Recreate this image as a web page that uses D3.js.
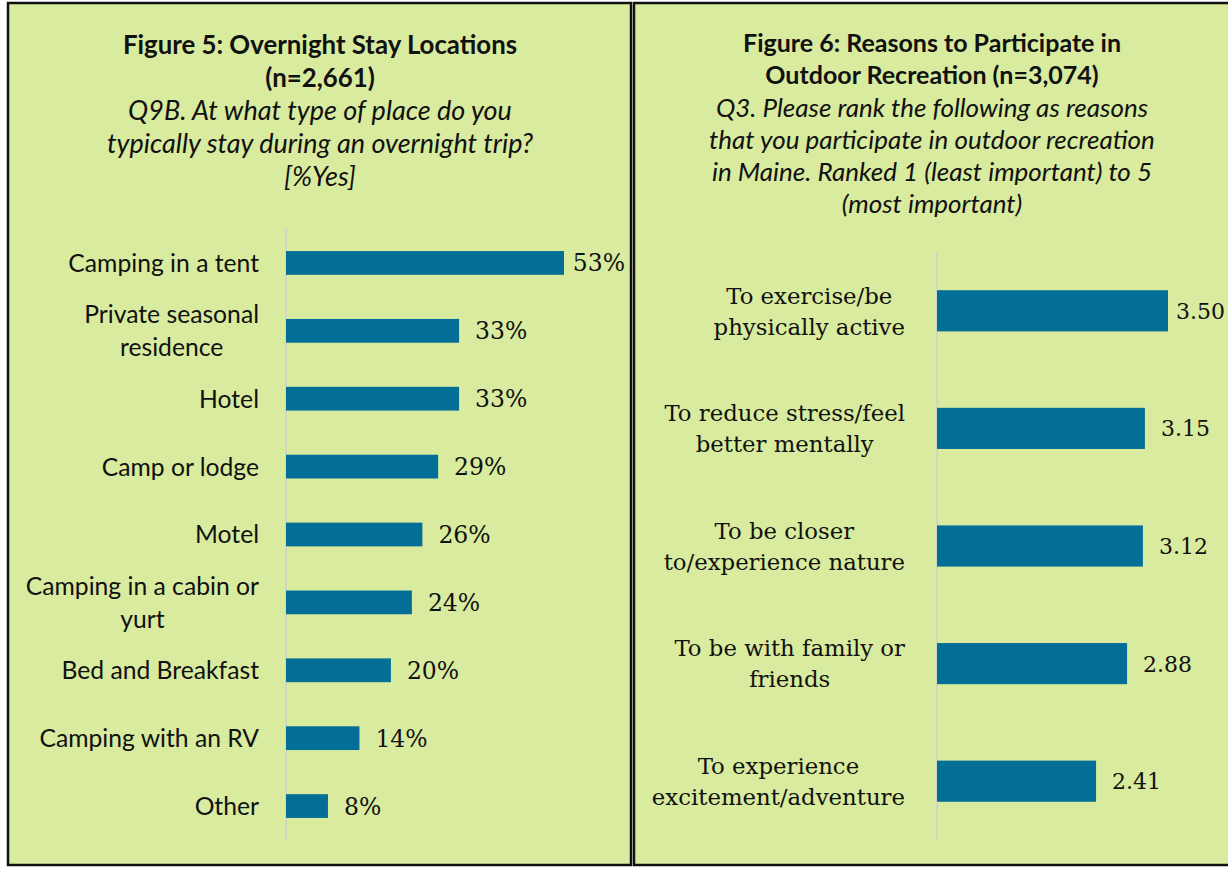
<!DOCTYPE html>
<html>
<head>
<meta charset="utf-8">
<script src="https://cdn.jsdelivr.net/npm/d3@7"></script>
<style>
  body { margin: 0; background: #fff; }
  svg { display: block; }
</style>
</head>
<body>
<svg id="chart"></svg>
<script>
// ── Data ──
const stayLabels = ['Camping in a tent', 'Private seasonal\nresidence', 'Hotel', 'Camp or lodge', 'Motel',
  'Camping in a cabin or\nyurt', 'Bed and Breakfast', 'Camping with an RV', 'Other'];
const stayValues = [53, 33, 33, 29, 26, 24, 20, 14, 8];

const reasonLabels = ['To exercise/be\nphysically active', 'To reduce stress/feel\nbetter mentally',
  'To be closer\nto/experience nature', 'To be with family or\nfriends', 'To experience\nexcitement/adventure'];
const reasonValues = [3.50, 3.15, 3.12, 2.88, 2.41];

const fig5Title = ['Figure 5: Overnight Stay Locations', '(n=2,661)'];
const fig5Question = ['Q9B. At what type of place do you', 'typically stay during an overnight trip?', '[%Yes]'];
const fig6Title = ['Figure 6: Reasons to Participate in', 'Outdoor Recreation (n=3,074)'];
const fig6Question = ['Q3. Please rank the following as reasons', 'that you participate in outdoor recreation',
  'in Maine. Ranked 1 (least important) to 5', '(most important)'];

const W = 1228, H = 869;
const BG = '#d8eb9e', BAR = '#046f96';
const SANS = 'Lato, "Open Sans", sans-serif';
const SERIF = '"DejaVu Serif", "Liberation Serif", serif';

const svg = d3.select('#chart').attr('width', W).attr('height', H);

// panels
svg.append('rect').attr('x', 8).attr('y', 3).attr('width', 623).attr('height', 862)
  .attr('fill', BG).attr('stroke', '#111').attr('stroke-width', 2.5);
svg.append('rect').attr('x', 634).attr('y', 3).attr('width', 610).attr('height', 862)
  .attr('fill', BG).attr('stroke', '#111').attr('stroke-width', 2.5);

function drawHeader(cx, titleLines, qLines, c0, lh, bSize, iSize) {
  titleLines.concat(qLines).forEach((t, i) => {
    const bold = i < titleLines.length;
    svg.append('text').attr('x', cx).attr('y', c0 + i * lh).attr('dy', '0.36em')
      .attr('text-anchor', 'middle')
      .style('font-family', SANS).style('font-size', bold ? bSize : iSize).style('fill', '#111')
      .style('font-weight', bold ? '700' : '400')
      .style('font-style', bold ? 'normal' : 'italic')
      .text(t);
  });
}

function drawBars(o) {
  const x = d3.scaleLinear().domain([0, o.max]).range([o.x0, o.x1]);
  const y = d3.scaleBand().domain(o.labels).range([o.y0, o.y1]).paddingInner(o.pad).paddingOuter(o.pad / 2);
  const g = svg.append('g');

  // axis line
  g.append('line').attr('x1', x(0)).attr('x2', x(0))
    .attr('y1', o.y0).attr('y2', o.y1).attr('stroke', '#d0d0d0').attr('stroke-width', 1.5);

  g.selectAll('rect.bar').data(o.values).enter().append('rect')
    .attr('class', 'bar')
    .attr('x', x(0)).attr('y', (d, i) => y(o.labels[i]))
    .attr('width', d => x(d) - x(0)).attr('height', y.bandwidth())
    .attr('fill', BAR);

  // value labels
  g.selectAll('text.val').data(o.values).enter().append('text')
    .attr('class', 'val')
    .attr('x', d => x(d) + 16)
    .attr('y', (d, i) => y(o.labels[i]) + y.bandwidth() / 2)
    .attr('dy', '0.36em')
    .style('font-family', SERIF).style('font-size', o.valSize).style('fill', '#111')
    .text(o.fmt)
    .each(function () {
      const w = this.getComputedTextLength();
      const xx = +this.getAttribute('x');
      if (xx + w > o.limit) this.setAttribute('x', o.limit - w);
    });

  // category labels, centred lines inside a right-aligned block
  o.labels.forEach((lab, i) => {
    const lines = lab.split('\n');
    const cy = y(lab) + y.bandwidth() / 2;
    const t = g.append('text')
      .style('font-family', o.labFont).style('font-size', o.labSize).style('fill', '#111');
    const spans = lines.map((l, k) => t.append('tspan')
      .attr('y', cy + (k - (lines.length - 1) / 2) * o.lh).attr('dy', '0.36em').text(l));
    const widths = spans.map(s => s.node().getComputedTextLength());
    const wmax = d3.max(widths);
    spans.forEach((s, k) => s.attr('x', o.labRight - wmax + (wmax - widths[k]) / 2));
  });
}

drawHeader(320, fig5Title, fig5Question, 45, 32.8, '25.8px', '27px');
drawHeader(932, fig6Title, fig6Question, 43, 32.2, '25px', '26px');

drawBars({
  labels: stayLabels, values: stayValues, max: 60,
  x0: 286, x1: 286 + 278 * 60 / 53, y0: 229, y1: 840, pad: 0.65,
  fmt: d => d + '%', valSize: '23.5px', limit: 625,
  labFont: SANS, labSize: '24.7px', labRight: 259, lh: 33
});

drawBars({
  labels: reasonLabels, values: reasonValues, max: 4,
  x0: 937, x1: 937 + 66 * 4, y0: 252, y1: 840, pad: 0.65,
  fmt: d => d.toFixed(2), valSize: '22px', limit: 1225,
  labFont: SERIF, labSize: '22.8px', labRight: 905, lh: 31
});
</script>
</body>
</html>
